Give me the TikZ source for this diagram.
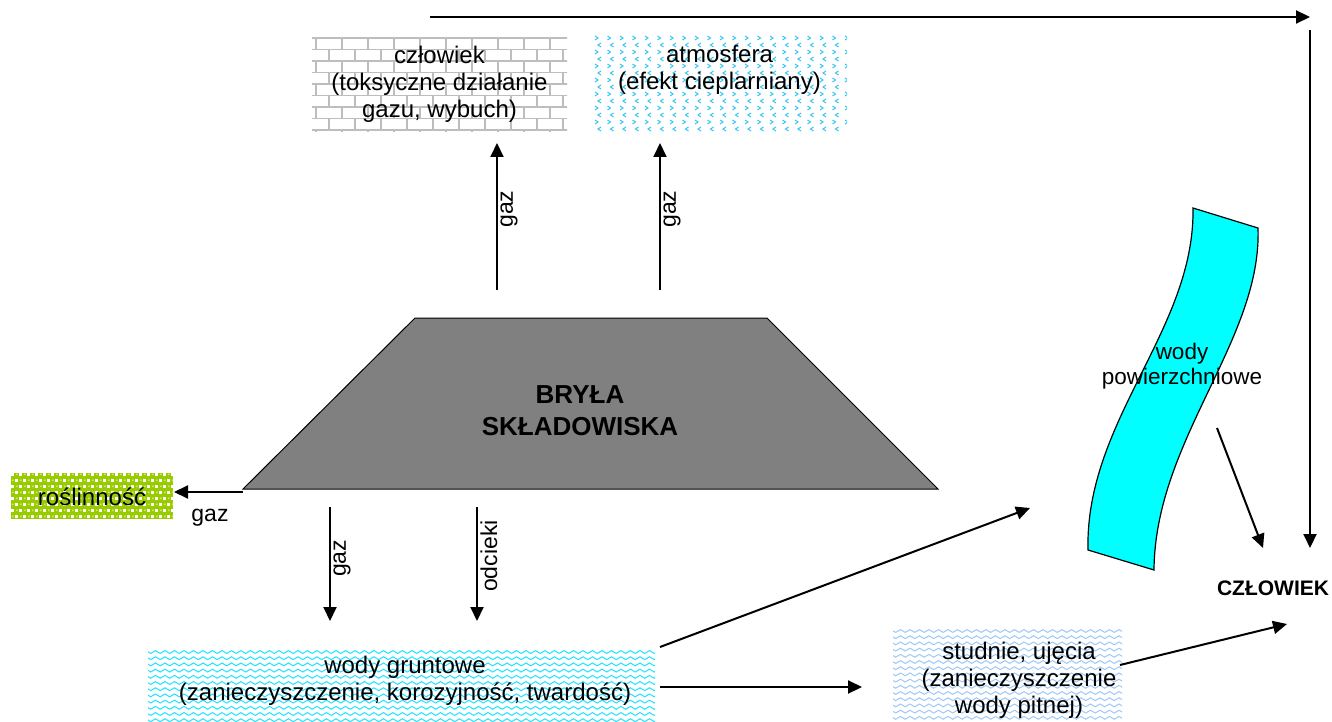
\documentclass[tikz,border=0pt]{standalone}
\usepackage{fontspec}
\setmainfont{Liberation Sans}
\usetikzlibrary{arrows.meta,decorations.pathmorphing}

\definecolor{trapgray}{HTML}{808080}
\definecolor{wavecyan}{HTML}{1EE4FF}
\definecolor{wavepale}{HTML}{A0C8F5}
\definecolor{brickgray}{HTML}{BDBDBD}
\definecolor{airblue}{HTML}{3CC8F5}
\definecolor{plantgreen}{HTML}{99CC00}
\definecolor{plantlight}{HTML}{C8E66E}
\definecolor{bandcyan}{HTML}{00FFFF}

\tikzset{
  conn/.style={line width=2pt, -{Triangle[length=14pt,width=13pt]}},
  txt/.style={font=\fontsize{24}{27}\selectfont, align=center, inner sep=0pt},
  lbl/.style={font=\fontsize{23}{26}\selectfont, inner sep=2.5pt},
  vlbl/.style={lbl, rotate=90, anchor=north},
  brickline/.style={brickgray, line width=1.3pt},
  waveline/.style={line width=1pt, decorate,
    decoration={snake, amplitude=1.4pt, segment length=9.5pt}},
  chevline/.style={airblue, line width=1pt}
}

% grey brick wall in the rectangle x y w h
\newcommand\brickfill[4]{%
  \begin{scope}
    \clip (#1,#2) rectangle ++(#3,#4);
    \foreach \r in {0,...,9} {
      \draw[brickline] ({#1-5},{#2+\r*11.5+5}) -- ({#1+#3+5},{#2+\r*11.5+5});
      \foreach \c in {0,...,11}
        \draw[brickline] ({#1+\c*26+mod(\r,2)*13+4},{#2+\r*11.5+5}) -- ++(0,11.5);
    }
  \end{scope}}

% rows of small waves, colour #5
\newcommand\wavefill[5]{%
  \begin{scope}
    \clip (#1,#2) rectangle ++(#3,#4);
    \foreach \r in {0,...,18}
      \draw[waveline, #5] ({#1-5},{#2+\r*6.2+3}) -- ({#1+#3+10},{#2+\r*6.2+3});
  \end{scope}}

% small chevrons pointing alternately right and left
\newcommand\chevfill[4]{%
  \begin{scope}
    \clip (#1,#2) rectangle ++(#3,#4);
    \foreach \r in {0,...,13} {
      \foreach \c in {0,...,21} {
        \ifodd\r
          \draw[chevline] ({#1+\c*12.5+9},{#2+\r*7+3}) -- ({#1+\c*12.5+6},{#2+\r*7+5}) -- ({#1+\c*12.5+9},{#2+\r*7+7});
        \else
          \draw[chevline] ({#1+\c*12.5+3},{#2+\r*7+3}) -- ({#1+\c*12.5+6},{#2+\r*7+5}) -- ({#1+\c*12.5+3},{#2+\r*7+7});
        \fi
      }
    }
  \end{scope}}

% green spheres on a checkered ground
\newcommand\spherefill[4]{%
  \begin{scope}
    \clip (#1,#2) rectangle ++(#3,#4);
    \fill[plantgreen] (#1,#2) rectangle ++(#3,#4);
    \foreach \r in {0,...,7} {
      \foreach \c in {0,...,20} {
        \fill[white] ({#1+\c*8+mod(\r,2)*4},{#2+\r*6}) rectangle ++(3.2,3);
        \fill[plantlight] ({#1+\c*8+mod(\r+1,2)*4+1.8},{#2+\r*6+1.3}) circle (1.1);
      }
    }
  \end{scope}}

\begin{document}
\begin{tikzpicture}[x=1pt, y=-1pt]
  \useasboundingbox (0,0) rectangle (1332,722);

  % landfill body
  \draw[fill=trapgray, line width=1pt] (415,318) -- (767,318) -- (938,489) -- (243,489) -- cycle;
  \node[font=\fontsize{26}{32}\selectfont\bfseries, align=center] (bryla) at (580,411) {BRYŁA\\SKŁADOWISKA};

  % receptor boxes
  \brickfill{312}{33}{255}{99}
  \node[txt] (czlowiek) at (439.5,84) {człowiek\\(toksyczne działanie\\gazu, wybuch)};

  \chevfill{592}{33}{255}{99}
  \node[txt] (atm) at (719.5,70) {atmosfera\\(efekt cieplarniany)};

  \spherefill{11}{473}{162}{46}
  \node[txt] (rosl) at (92,497) {roślinność};

  \wavefill{148}{649}{507}{80}{wavecyan}
  \node[txt] (gw) at (405,681) {wody gruntowe\\(zanieczyszczenie, korozyjność, twardość)};

  \wavefill{893}{628}{229}{100}{wavepale}
  \node[txt] (stud) at (1019,680) {studnie, ujęcia\\(zanieczyszczenie\\wody pitnej)};

  % surface water band
  \draw[fill=bandcyan, line width=1.2pt]
    (1193,208) -- (1258,228) .. controls (1262,340) and (1155,440) .. (1154,570)
    -- (1088,550) .. controls (1085,420) and (1195,330) .. (1193,208) -- cycle;
  \node[lbl, align=center, font=\fontsize{22.5}{25}\selectfont] (surf) at (1182,366) {wody\\powierzchniowe};

  \node[font=\fontsize{21}{24}\selectfont\bfseries] (man) at (1273,588) {CZŁOWIEK};

  % connector end points
  \coordinate (topA) at (430,17);
  \coordinate (topB) at (1310,17);
  \coordinate (rightA) at (1310,30);
  \coordinate (rightB) at (1310,548);
  \coordinate (upLa) at (497,290);
  \coordinate (upLb) at (497,143);
  \coordinate (upRa) at (660,290);
  \coordinate (upRb) at (660,143);
  \coordinate (leftA) at (243,492);
  \coordinate (leftB) at (174,492);
  \coordinate (dnLa) at (330,507);
  \coordinate (dnLb) at (330,621);
  \coordinate (dnRa) at (477,507);
  \coordinate (dnRb) at (477,621);
  \coordinate (gwA) at (660,647);
  \coordinate (gwB) at (1030,508);
  \coordinate (gwC) at (660,687);
  \coordinate (gwD) at (862,687);
  \coordinate (stA) at (1120,665);
  \coordinate (stB) at (1287,624);
  \coordinate (sfA) at (1217,428);
  \coordinate (sfB) at (1263,548);

  % connectors
  \draw[conn] (topA) -- (topB);
  \draw[conn] (rightA) -- (rightB);
  \draw[conn] (upLa) -- (upLb) node[vlbl, pos=0.55] (gazUL) {gaz};
  \draw[conn] (upRa) -- (upRb) node[vlbl, pos=0.55] (gazUR) {gaz};
  \draw[conn] (leftA) -- (leftB);
  \node[lbl] (gazL) at (210,518) {gaz};
  \draw[conn] (dnLa) -- (dnLb) node[vlbl, pos=0.45] (gazDL) {gaz};
  \draw[conn] (dnRa) -- (dnRb) node[vlbl, pos=0.43] (odc) {odcieki};
  \draw[conn] (gwA) -- (gwB);
  \draw[conn] (gwC) -- (gwD);
  \draw[conn] (stA) -- (stB);
  \draw[conn] (sfA) -- (sfB);
\end{tikzpicture}
\end{document}
